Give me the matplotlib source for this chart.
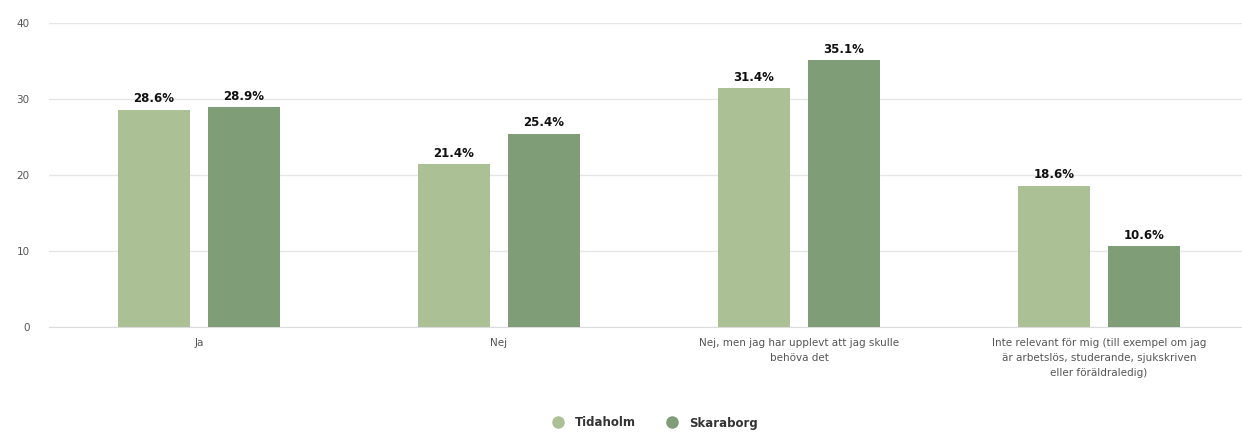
import matplotlib.pyplot as plt
import numpy as np

categories = [
    "Ja",
    "Nej",
    "Nej, men jag har upplevt att jag skulle\nbehöva det",
    "Inte relevant för mig (till exempel om jag\när arbetslös, studerande, sjukskriven\neller föräldraledig)",
]
tidaholm = [28.6, 21.4, 31.4, 18.6]
skaraborg = [28.9, 25.4, 35.1, 10.6]
series_names = ["Tidaholm", "Skaraborg"]
colors = ["#abc095", "#7f9e78"]

fig = plt.figure(figsize=(12.42, 4.33), dpi=100)
ax = fig.add_axes([49 / 1242, 1 - 327 / 433, 1200 / 1242, (327 - 23) / 433])

x = np.arange(len(categories))
w = 0.24
off = 0.15
b1 = ax.bar(x - off, tidaholm, w, color=colors[0], label=series_names[0], zorder=3)
b2 = ax.bar(x + off, skaraborg, w, color=colors[1], label=series_names[1], zorder=3)

for bars in (b1, b2):
    for r in bars:
        h = r.get_height()
        ax.text(r.get_x() + r.get_width() / 2, h + 0.6, f"{h:.1f}%",
                ha="center", va="bottom", fontsize=8.5, fontweight="bold",
                color="#111111")

ax.set_xlim(-0.5, 3.5)
ax.set_ylim(0, 40)
ax.set_yticks([0, 10, 20, 30, 40])
ax.grid(axis="y", color="#e6e6e6", linewidth=1, zorder=0)
ax.set_xticks(x)
ax.set_xticklabels(categories, fontsize=7.5, color="#555555", linespacing=1.6)
ax.tick_params(axis="y", labelsize=7.5, labelcolor="#555555", length=0, pad=14)
ax.tick_params(axis="x", length=0, pad=8)
for s in ["top", "right", "left"]:
    ax.spines[s].set_visible(False)
ax.spines["bottom"].set_color("#dddddd")

handles = [plt.Line2D([], [], marker="o", linestyle="", markersize=8,
                      color=c) for c in colors]
leg = fig.legend(handles, series_names, loc="center", bbox_to_anchor=(0.525, 1 - 423 / 433),
                 ncol=2, frameon=False, fontsize=8.5, handletextpad=0.5,
                 columnspacing=2.0)
for t in leg.get_texts():
    t.set_fontweight("bold")
    t.set_color("#333333")

fig.savefig("out.png", dpi=100)
